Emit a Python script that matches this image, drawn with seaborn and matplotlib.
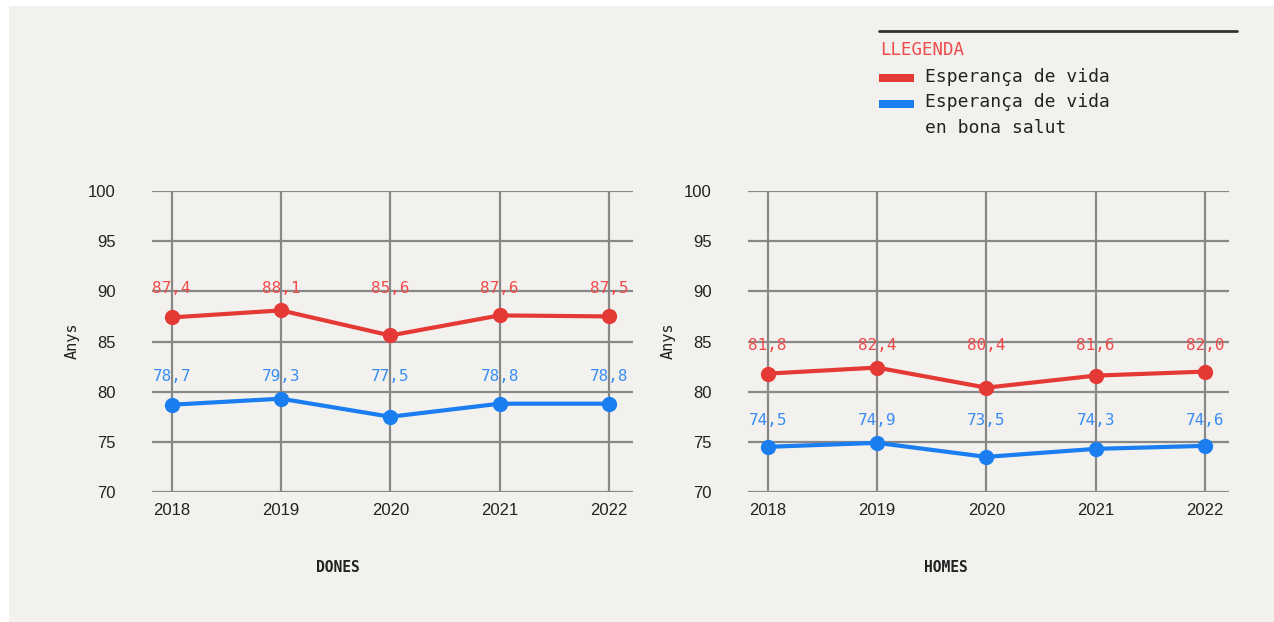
import pandas as pd
import numpy as np
import matplotlib.pyplot as plt
import seaborn as sns
from matplotlib.patches import Rectangle

years = [2018, 2019, 2020, 2021, 2022]

dones_vida = [87.4, 88.1, 85.6, 87.6, 87.5]
dones_salut = [78.7, 79.3, 77.5, 78.8, 78.8]
homes_vida = [81.8, 82.4, 80.4, 81.6, 82.0]
homes_salut = [74.5, 74.9, 73.5, 74.3, 74.6]

series_names = ["Esperança de vida", "Esperança de vida\nen bona salut"]
panel_titles = ["DONES", "HOMES"]
y_ticks = [70, 75, 80, 85, 90, 95, 100]

RED = "#e53935"
BLUE = "#1a7ef0"
RED_TXT = "#f04a4a"
BLUE_TXT = "#3a8df5"
BG = "#f2f1ed"
GRID = "#888888"

sns.set_theme(style="white")
plt.rcParams["font.family"] = ["Liberation Sans Narrow", "Liberation Sans", "DejaVu Sans"]
MONO = ["DejaVu Sans Mono"]


def build_frame(vida, salut):
    """Long table for seaborn: one row per year and series."""
    return pd.DataFrame({
        "year": years * 2,
        "value": list(vida) + list(salut),
        "serie": [series_names[0]] * len(years) + [series_names[1]] * len(years),
    })


fig = plt.figure(figsize=(12.74, 6.22), dpi=100)
fig.patch.set_facecolor("white")
fig.patches.append(Rectangle((9 / 1274, 0), 1, 1 - 6 / 622, transform=fig.transFigure,
                             facecolor=BG, edgecolor="none", zorder=-10))

axes_pos = [
    [152 / 1274, 1 - 492 / 622, 481 / 1274, 301 / 622],
    [748 / 1274, 1 - 492 / 622, 481 / 1274, 301 / 622],
]
title_x = [338 / 1274, 946 / 1274]
ylabel_x = [72 / 1274, 668 / 1274]

data = [(dones_vida, dones_salut), (homes_vida, homes_salut)]

for i, (vida, salut) in enumerate(data):
    ax = fig.add_axes(axes_pos[i])
    ax.set_facecolor(BG)
    df = build_frame(vida, salut)
    sns.lineplot(data=df, x="year", y="value", hue="serie", palette=[RED, BLUE],
                 marker="o", markersize=11, markeredgewidth=0, linewidth=3,
                 ax=ax, legend=False, zorder=3)

    # value labels sit on one row per series, just above the highest point
    for vals, col in [(vida, RED_TXT), (salut, BLUE_TXT)]:
        row_y = max(vals) + 2.2
        for x, v in zip(years, vals):
            ax.text(x, row_y, f"{v:.1f}".replace(".", ","), ha="center", va="center",
                    color=col, fontsize=11.5, family=MONO, zorder=4)

    ax.set_xlim(2017.82, 2022.22)
    ax.set_ylim(70, 100)
    ax.set_xticks(years)
    ax.set_yticks(y_ticks)
    ax.set_xticklabels([str(y) for y in years])
    ax.grid(True, color=GRID, linewidth=1.6, zorder=0)
    ax.set_axisbelow(True)
    for s in ax.spines.values():
        s.set_visible(False)
    ax.tick_params(axis="both", length=0, labelsize=12, colors="#222222")
    ax.tick_params(axis="y", pad=26)
    ax.tick_params(axis="x", pad=8)
    ax.set_xlabel("")
    ax.set_ylabel("")

    fig.text(ylabel_x[i], 1 - 341 / 622, "Anys", rotation=90, ha="center", va="center",
             fontsize=11, color="#222222", family=MONO)
    fig.text(title_x[i], 1 - 567 / 622, panel_titles[i], ha="center", va="center",
             fontsize=10.5, color="#222222", family=MONO, fontweight="bold")

# legend block top right
fig.add_artist(plt.Line2D([879 / 1274, 1237 / 1274], [1 - 31 / 622] * 2,
                          transform=fig.transFigure, color="#333333", linewidth=2))
fig.text(880 / 1274, 1 - 50 / 622, "LLEGENDA", ha="left", va="center",
         fontsize=12.5, color=RED_TXT, family=MONO)
for j, (col, yy) in enumerate([(RED, 78), (BLUE, 104)]):
    fig.add_artist(Rectangle((879 / 1274, 1 - (yy + 4) / 622), 35 / 1274, 8 / 622,
                             transform=fig.transFigure, facecolor=col, edgecolor="none"))
fig.text(925 / 1274, 1 - 77 / 622, series_names[0], ha="left", va="center",
         fontsize=13, color="#222222", family=MONO)
fig.text(925 / 1274, 1 - 93 / 622, series_names[1], ha="left", va="top",
         fontsize=13, color="#222222", family=MONO, linespacing=1.55)

fig.savefig("out.png", dpi=100, facecolor=fig.get_facecolor())
